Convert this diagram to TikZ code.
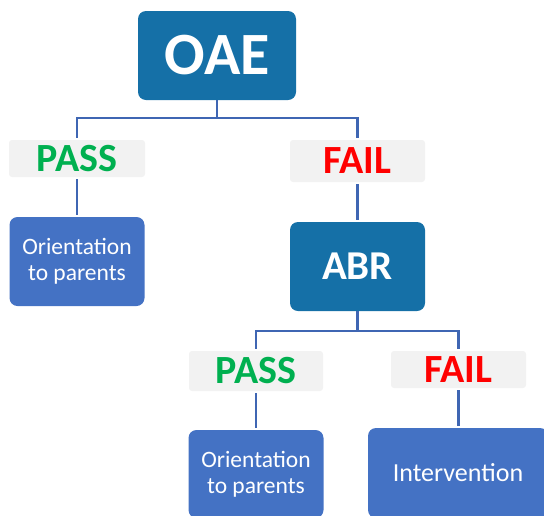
\documentclass[tikz,border=0pt]{standalone}
\usepackage{fontspec}
\setmainfont{Carlito}
\definecolor{topblue}{HTML}{1570A7}
\definecolor{boxblue}{HTML}{4472C4}
\definecolor{linkblue}{HTML}{3F66B3}
\definecolor{labelgrey}{HTML}{F2F2F2}
\definecolor{passgreen}{HTML}{00B050}
\definecolor{failred}{HTML}{FF0000}
\begin{document}
\begin{tikzpicture}[x=1pt,y=-1pt,
  testbox/.style={fill=topblue, rounded corners=8pt, inner sep=0pt, text=white, font=\bfseries},
  resultbox/.style={fill=boxblue, rounded corners=8pt, inner sep=0pt, text=white, align=center},
  labelbox/.style={fill=labelgrey, rounded corners=3pt, inner sep=0pt, font=\fontsize{40}{44}\selectfont\bfseries},
  link/.style={draw=linkblue, line width=2.5pt},
  gap/.style={shorten <=2pt, shorten >=2pt}]
\useasboundingbox (0,0) rectangle (544,515);
\clip (0,0) rectangle (544,515);
% nodes
\node[testbox, minimum width=158pt, minimum height=89pt, font=\fontsize{60}{66}\selectfont\bfseries] (oae) at (217,55.5) {OAE};
\node[labelbox, minimum width=136pt, minimum height=37pt, text=passgreen] (pass1) at (77,158.5) {PASS};
\node[labelbox, minimum width=135pt, minimum height=42pt, text=failred] (fail1) at (357.5,161) {FAIL};
\node[resultbox, minimum width=135pt, minimum height=89pt, font=\fontsize{23.5}{26}\selectfont] (or1) at (77,261.5) {Orientation\\to parents};
\node[testbox, minimum width=135pt, minimum height=89pt, font=\fontsize{41}{45}\selectfont\bfseries] (abr) at (357.5,266.5) {ABR};
\node[labelbox, minimum width=134pt, minimum height=40pt, text=passgreen] (pass2) at (256,371) {PASS};
\node[labelbox, minimum width=135pt, minimum height=37pt, text=failred] (fail2) at (458.5,369.5) {FAIL};
\node[resultbox, minimum width=135pt, minimum height=88pt, font=\fontsize{23.5}{26}\selectfont] (or2) at (256,474) {Orientation\\to parents};
\node[resultbox, minimum width=180pt, minimum height=90pt, font=\fontsize{26}{30}\selectfont] (int) at (458,473) {Intervention};
% connectors
\draw[link, shorten >=2pt] (oae.south) -- ++(0,18) -| (pass1.north);
\draw[link, shorten >=2pt] (oae.south) -- ++(0,18) -| (fail1.north);
\draw[link, gap] (pass1.south) -- (or1.north);
\draw[link, gap] (fail1.south) -- (abr.north);
\draw[link, shorten >=2pt] (abr.south) -- ++(0,20) -| (pass2.north);
\draw[link, shorten >=2pt] (abr.south) -- ++(0,20) -| (fail2.north);
\draw[link, gap] (pass2.south) -- (or2.north);
\draw[link, gap] (fail2.south) -- (fail2.south |- int.north);
\end{tikzpicture}
\end{document}
